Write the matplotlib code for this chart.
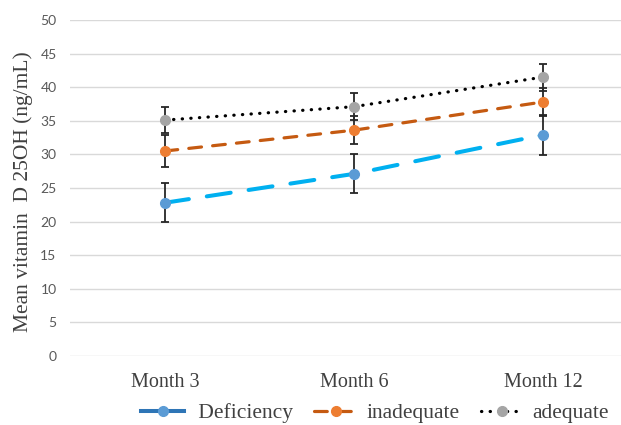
import matplotlib
matplotlib.use("Agg")
import matplotlib.pyplot as plt
from matplotlib.legend_handler import HandlerLine2D
import numpy as np

categories = ["Month 3", "Month 6", "Month 12"]
deficiency = [22.8, 27.1, 32.9]
deficiency_err = [2.9, 2.9, 3.0]
inadequate = [30.5, 33.6, 37.8]
inadequate_err = [2.4, 2.1, 2.1]
adequate = [35.1, 37.1, 41.5]
adequate_err = [1.95, 2.0, 2.0]
yticks = list(range(0, 55, 5))

fig = plt.figure(figsize=(6.21, 4.25), dpi=100)
ax = fig.add_axes([0.1135, 0.1624, 0.913, 0.7906])
x = np.arange(len(categories))

serif = "Liberation Serif"
sans = "Lato"

specs = [
    ("Deficiency", deficiency, deficiency_err, "#00B0F0", "#5B9BD5", (0, (6, 4.5)), 2.9),
    ("inadequate", inadequate, inadequate_err, "#C55A11", "#ED7D31", (0, (4, 3.5)), 2.3),
    ("adequate", adequate, adequate_err, "#000000", "#A5A5A5", (0, (0.1, 2.6)), 2.3),
]
handles = []
for label, vals, err, lc, mc, ls, lw in specs:
    ax.errorbar(x, vals, yerr=err, fmt="none", ecolor="#262626", elinewidth=1.3,
                capsize=3, capthick=1.3, zorder=2)
    line, = ax.plot(x, vals, linestyle=ls, color=lc, linewidth=lw,
                    dash_capstyle="round", marker="o", markersize=7,
                    markerfacecolor=mc, markeredgecolor=mc, label=label, zorder=3)
    handles.append(line)

ax.set_xlim(-0.5, 2.5)
ax.set_ylim(0, 50)
ax.set_yticks(yticks)
ax.set_xticks(x)
ax.set_xticklabels(categories, fontfamily=serif, fontsize=14.5, color="#404040")
for t in ax.get_yticklabels():
    t.set_fontfamily(sans)
    t.set_fontsize(10)
    t.set_color("#595959")
ax.tick_params(axis="both", length=0)
ax.tick_params(axis="x", pad=12)
ax.tick_params(axis="y", pad=10)
ax.grid(axis="y", color="#D9D9D9", linewidth=1)
ax.set_axisbelow(True)
for s in ax.spines.values():
    s.set_visible(False)
ax.set_ylabel("Mean vitamin  D 25OH (ng/mL)", fontfamily=serif, fontsize=15.5,
              color="#404040")
ax.yaxis.set_label_coords(-0.066, 0.488)


def _solid(legline, orig):
    legline.update_from(orig)
    legline.set_linestyle("-")
    legline.set_color("#2E75B6")


leg = fig.legend(handles=handles, loc="center", bbox_to_anchor=(0.604, 0.028),
                 ncol=3, frameon=False, prop={"family": serif, "size": 15.5},
                 handlelength=2.0, columnspacing=1.0, handletextpad=0.4,
                 borderpad=0.1, borderaxespad=0,
                 handler_map={handles[0]: HandlerLine2D(update_func=_solid)})
for t in leg.get_texts():
    t.set_color("#404040")
leg.get_texts()[0].set_text(" Deficiency")

fig.savefig("out.png", dpi=100)
